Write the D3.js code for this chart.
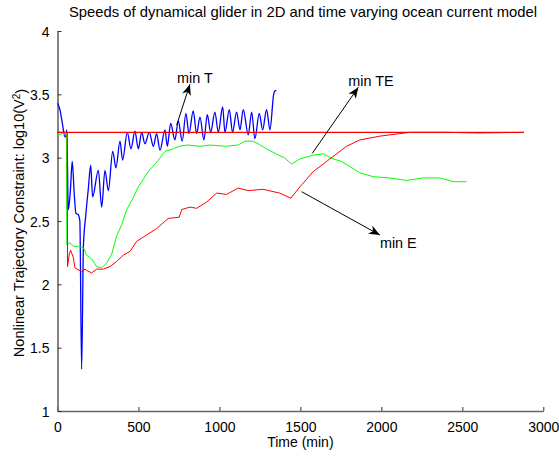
<!DOCTYPE html>
<html lang="en">
<head>
    <meta charset="UTF-8">
    <title>Speeds of dynamical glider</title>
    <script src="https://d3js.org/d3.v7.min.js"></script>
    <style>
        body {
            margin: 0;
            padding: 0;
            background: #fff;
        }
        svg text {
            font-family: "Liberation Sans", Arial, Helvetica, sans-serif;
            fill: #000;
        }
    </style>
</head>
<body>
    <svg width="559" height="456"></svg>

    <script>
        // tick values
        const xTicks = [0, 500, 1000, 1500, 2000, 2500, 3000];
        const yTicks = [1, 1.5, 2, 2.5, 3, 3.5, 4];

        // min T (blue)
        const blueT = [0, 15, 30, 46, 52, 57, 67, 80, 91, 104, 114, 128, 138, 149, 160, 175, 190, 205,
            217, 252, 273, 293, 314, 341, 361, 386, 402, 431, 454, 478, 499, 520, 540, 567, 592, 612,
            633, 664, 678, 699, 725, 746, 770, 793, 812, 838, 859, 880, 904, 925, 946, 972, 993, 1020,
            1034, 1061, 1081, 1106, 1127, 1147, 1178, 1199, 1219, 1246, 1267, 1291, 1312, 1335, 1345, 1352];
        const blueV = [3.43, 3.38, 3.27, 3.165, 3.17, 3.22, 2.59, 2.75, 2.97, 2.70, 2.56, 2.55, 2.50, 1.33, 2.30, 2.55, 2.75, 2.94,
            2.69, 2.90, 2.61, 2.90, 2.74, 3.05, 2.92, 3.13, 2.98, 3.20, 3.07, 3.21, 3.07, 3.20, 3.11, 3.20, 3.09, 3.19,
            3.06, 3.22, 3.09, 3.27, 3.14, 3.29, 3.13, 3.35, 3.19, 3.37, 3.19, 3.32, 3.14, 3.34, 3.20, 3.36, 3.20, 3.40,
            3.20, 3.38, 3.20, 3.36, 3.22, 3.38, 3.18, 3.36, 3.15, 3.35, 3.22, 3.38, 3.22, 3.50, 3.53, 3.53];

        // min TE (green)
        const greenT = [0, 30, 55, 58, 77, 98, 129, 160, 180, 211, 242, 273, 304, 335, 365, 396, 427, 458,
            499, 561, 622, 664, 715, 752, 800, 880, 940, 1044, 1116, 1157, 1208, 1239, 1290, 1350, 1400,
            1445, 1497, 1579, 1641, 1703, 1754, 1806, 1867, 1949, 2052, 2156, 2258, 2361, 2443, 2525];
        const greenV = [3.18, 3.19, 3.2, 2.31, 2.33, 2.30, 2.30, 2.29, 2.23, 2.20, 2.14, 2.13, 2.17, 2.24, 2.38, 2.47, 2.59, 2.66,
            2.77, 2.89, 2.98, 3.05, 3.07, 3.09, 3.10, 3.09, 3.10, 3.09, 3.10, 3.13, 3.13, 3.11, 3.07, 3.03, 3.00,
            2.95, 2.99, 3.02, 3.03, 2.99, 2.97, 2.93, 2.88, 2.85, 2.84, 2.82, 2.84, 2.84, 2.81, 2.81];

        // min E (red)
        const redT = [0, 60, 62, 73, 81, 98, 108, 149, 170, 180, 211, 242, 283, 324, 365, 406, 448, 489,
            551, 612, 684, 752, 767, 818, 859, 921, 983, 1044, 1116, 1178, 1270, 1373, 1441, 1497, 1579,
            1682, 1785, 1867, 1991, 2114, 2176, 2400, 2600, 2880];
        const redV = [3.2, 3.2, 2.14, 2.24, 2.27, 2.21, 2.13, 2.10, 2.12, 2.11, 2.09, 2.12, 2.12, 2.14, 2.18, 2.23, 2.26, 2.34,
            2.39, 2.44, 2.52, 2.53, 2.59, 2.61, 2.60, 2.65, 2.72, 2.71, 2.76, 2.74, 2.75, 2.72, 2.68, 2.77, 2.89,
            2.99, 3.09, 3.14, 3.17, 3.19, 3.20, 3.20, 3.195, 3.2];

        // constraint limit
        const limitT = [0, 2880];
        const limitV = [3.2, 3.2];

        // annotations: label, text anchor, arrow tail, arrow head (data units)
        const noteLabels = ["min T", "min TE", "min E"];
        const noteText = [[738, 3.59], [1796, 3.566], [1991, 2.283]];
        const noteTail = [[736, 3.258], [1573, 3.034], [1508, 2.731]];
        const noteHead = [[818, 3.58], [1858, 3.556], [1991, 2.389]];

        const width = 559;
        const height = 456;

        const x = d3.scaleLinear().domain([0, 3000]).range([57.5, 543.3]);
        const y = d3.scaleLinear().domain([1, 4]).range([411, 31]);

        const svg = d3.select("svg")
            .attr("width", width)
            .attr("height", height);

        const defs = svg.append("defs");
        defs.append("marker")
            .attr("id", "head")
            .attr("markerUnits", "userSpaceOnUse")
            .attr("viewBox", "-12 -6 14 12")
            .attr("markerWidth", 14)
            .attr("markerHeight", 12)
            .attr("refX", 0)
            .attr("refY", 0)
            .attr("orient", "auto")
            .append("path")
            .attr("d", "M0,0 L-11,-4.5 L-8,0 L-11,4.5 Z")
            .attr("fill", "#000");

        // title
        svg.append("text")
            .attr("x", 303)
            .attr("y", 17)
            .attr("text-anchor", "middle")
            .style("font-size", "14.8px")
            .text("Speeds of dynamical glider in 2D and time varying ocean current model");

        // axes
        const xAxis = d3.axisBottom(x)
            .tickValues(xTicks)
            .tickFormat(d3.format("d"))
            .tickSizeInner(-4)
            .tickSizeOuter(0)
            .tickPadding(8);
        const yAxis = d3.axisLeft(y)
            .tickValues(yTicks)
            .tickFormat(d3.format("~g"))
            .tickSizeInner(-4)
            .tickSizeOuter(0)
            .tickPadding(8);

        const gx = svg.append("g")
            .attr("transform", `translate(0,${y(1)})`)
            .call(xAxis);
        const gy = svg.append("g")
            .attr("transform", `translate(${x(0)},0)`)
            .call(yAxis);

        [gx, gy].forEach(g => {
            g.select(".domain").attr("stroke", "#666").attr("stroke-width", 1.6);
            g.selectAll(".tick line").attr("stroke", "#333").attr("stroke-width", 1);
            g.selectAll(".tick text")
                .style("font-size", "14px")
                .style("font-family", "'Liberation Sans', Arial, sans-serif")
                .attr("fill", "#000");
        });
        gx.selectAll(".tick text").attr("dy", "0.95em");
        gy.selectAll(".tick text").attr("dy", "0.36em");

        // axis labels
        svg.append("text")
            .attr("x", x(1500))
            .attr("y", 447)
            .attr("text-anchor", "middle")
            .style("font-size", "14px")
            .text("Time (min)");

        const yl = svg.append("text")
            .attr("transform", `translate(24,${y(2.5) + 2}) rotate(-90)`)
            .attr("text-anchor", "middle")
            .style("font-size", "14.5px");
        yl.append("tspan").text("Nonlinear Trajectory Constraint: log10(V");
        yl.append("tspan").attr("dy", "-0.45em").style("font-size", "10px").text("2");
        yl.append("tspan").attr("dy", "0.45em").text(")");

        // series
        const line = d3.line()
            .x(d => x(d[0]))
            .y(d => y(d[1]));
        const smooth = d3.line()
            .x(d => x(d[0]))
            .y(d => y(d[1]))
            .curve(d3.curveMonotoneX);

        const series = [
            { t: blueT, v: blueV, color: "#0000ff", w: 1.3, gen: smooth },
            { t: greenT, v: greenV, color: "#00ff00", w: 1, gen: line },
            { t: redT, v: redV, color: "#ff0000", w: 1, gen: line },
            { t: limitT, v: limitV, color: "#ff0000", w: 1.3, gen: line }
        ];

        series.forEach(s => {
            svg.append("path")
                .datum(d3.zip(s.t, s.v))
                .attr("fill", "none")
                .attr("stroke", s.color)
                .attr("stroke-width", s.w)
                .attr("stroke-linejoin", "round")
                .attr("d", s.gen);
        });

        // annotations
        noteLabels.forEach((label, i) => {
            svg.append("line")
                .attr("x1", x(noteTail[i][0]))
                .attr("y1", y(noteTail[i][1]))
                .attr("x2", x(noteHead[i][0]))
                .attr("y2", y(noteHead[i][1]))
                .attr("stroke", "#000")
                .attr("stroke-width", 1)
                .attr("marker-end", "url(#head)");
            svg.append("text")
                .attr("x", x(noteText[i][0]))
                .attr("y", y(noteText[i][1]))
                .style("font-size", "14.4px")
                .text(label);
        });
    </script>
</body>
</html>
